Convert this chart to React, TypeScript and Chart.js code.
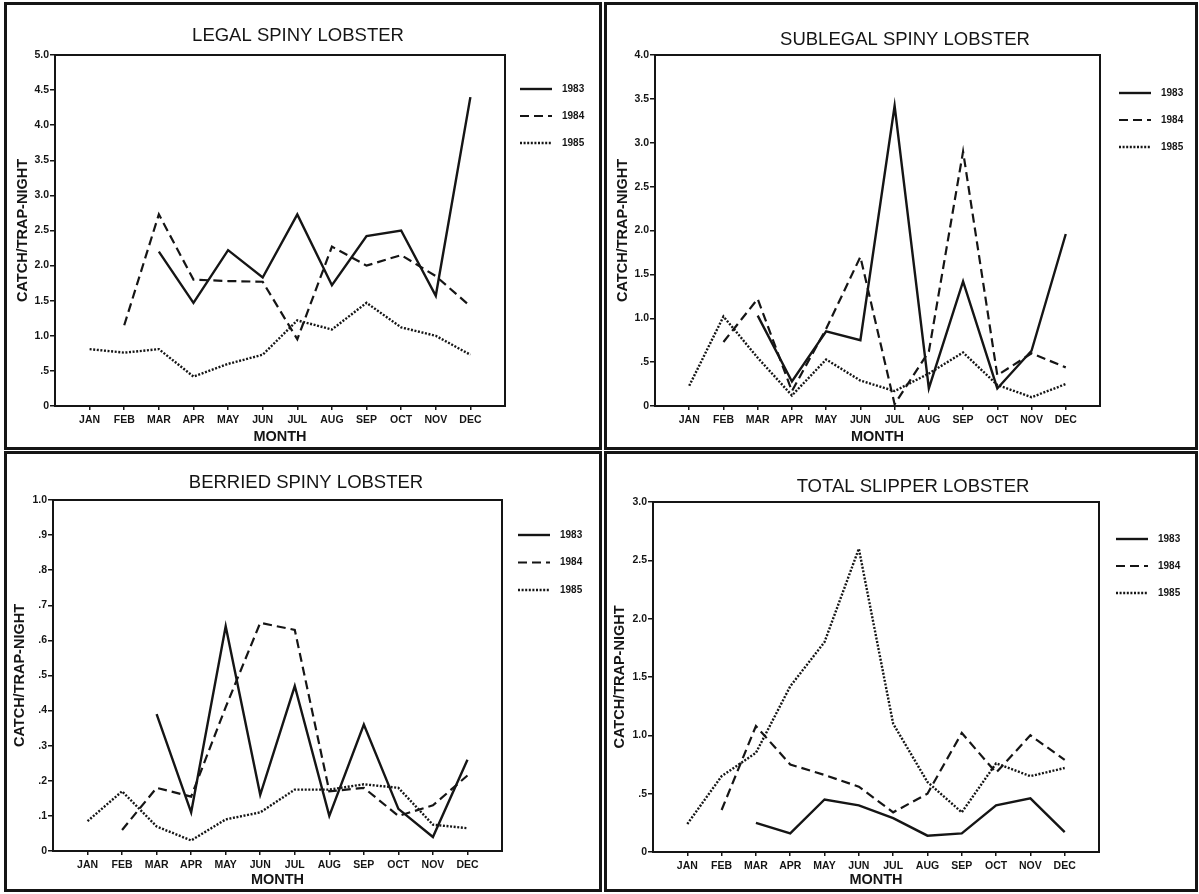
import React, { useEffect, useRef } from 'react';
import { Chart, registerables } from 'chart.js';

Chart.register(...registerables);

// ---- categories ----
const MONTHS = ['JAN', 'FEB', 'MAR', 'APR', 'MAY', 'JUN', 'JUL', 'AUG', 'SEP', 'OCT', 'NOV', 'DEC'];
const MONTH_NUMBERS = [1, 2, 3, 4, 5, 6, 7, 8, 9, 10, 11, 12];
const YEARS = ['1983', '1984', '1985'];

// ---- catch per trap-night, legal spiny lobster ----
const LEGAL_1983 = [null, null, 2.2, 1.47, 2.22, 1.83, 2.73, 1.72, 2.42, 2.5, 1.57, 4.4];
const LEGAL_1984 = [null, 1.15, 2.73, 1.8, 1.78, 1.77, 0.95, 2.27, 2.0, 2.15, 1.85, 1.42];
const LEGAL_1985 = [0.81, 0.76, 0.81, 0.42, 0.6, 0.73, 1.22, 1.09, 1.47, 1.12, 1.0, 0.73];

// ---- sublegal spiny lobster ----
const SUBLEGAL_1983 = [null, null, 1.03, 0.28, 0.85, 0.75, 3.42, 0.2, 1.42, 0.2, 0.63, 1.96];
const SUBLEGAL_1984 = [null, 0.73, 1.22, 0.17, 0.88, 1.7, 0.02, 0.62, 2.9, 0.35, 0.6, 0.44];
const SUBLEGAL_1985 = [0.23, 1.02, 0.55, 0.12, 0.53, 0.29, 0.17, 0.37, 0.61, 0.24, 0.1, 0.25];

// ---- berried spiny lobster ----
const BERRIED_1983 = [null, null, 0.39, 0.11, 0.64, 0.16, 0.47, 0.1, 0.36, 0.12, 0.04, 0.26];
const BERRIED_1984 = [null, 0.06, 0.18, 0.155, 0.41, 0.65, 0.63, 0.17, 0.18, 0.1, 0.13, 0.215];
const BERRIED_1985 = [0.085, 0.17, 0.07, 0.03, 0.09, 0.11, 0.175, 0.175, 0.19, 0.18, 0.075, 0.065];

// ---- total slipper lobster ----
const SLIPPER_1983 = [null, null, 0.25, 0.16, 0.45, 0.4, 0.29, 0.14, 0.16, 0.4, 0.46, 0.17];
const SLIPPER_1984 = [null, 0.36, 1.08, 0.75, 0.66, 0.56, 0.34, 0.5, 1.02, 0.68, 1.0, 0.79];
const SLIPPER_1985 = [0.24, 0.65, 0.85, 1.42, 1.8, 2.6, 1.1, 0.6, 0.34, 0.76, 0.65, 0.72];

// ---- y tick labels ----
const LEGAL_Y_TICKS = ['0', '.5', '1.0', '1.5', '2.0', '2.5', '3.0', '3.5', '4.0', '4.5', '5.0'];
const SUBLEGAL_Y_TICKS = ['0', '.5', '1.0', '1.5', '2.0', '2.5', '3.0', '3.5', '4.0'];
const BERRIED_Y_TICKS = ['0', '.1', '.2', '.3', '.4', '.5', '.6', '.7', '.8', '.9', '1.0'];
const SLIPPER_Y_TICKS = ['0', '.5', '1.0', '1.5', '2.0', '2.5', '3.0'];

const FONT = '"Liberation Sans", Arial, Helvetica, sans-serif';
const INK = '#151515';

// line style per year: solid, dashed, dotted
const YEAR_STYLES = [
  { dash: [] as number[], width: 2.4 },
  { dash: [9, 5], width: 2.2 },
  { dash: [2, 1.6], width: 2.4 },
];

type Geometry = {
  left: number; top: number; width: number; height: number;
  yWidth: number; padTop: number; padRight: number; xHeight: number;
  yTitlePad: number; xTitlePad: number;
  titleX: number; titleY: number;
  legendX: number; legendY: number; legendStep: number;
};

type PanelSpec = {
  title: string;
  yMax: number;
  yStep: number;
  yTicks: string[];
  series: (number | null)[][];
  geo: Geometry;
};

const PANELS: PanelSpec[] = [
  {
    title: 'LEGAL SPINY LOBSTER', yMax: 5, yStep: 0.5, yTicks: LEGAL_Y_TICKS,
    series: [LEGAL_1983, LEGAL_1984, LEGAL_1985],
    geo: { left: 4, top: 2, width: 592, height: 442, yWidth: 48, padTop: 50, padRight: 94, xHeight: 41,
      yTitlePad: 7, xTitlePad: 1, titleX: 291, titleY: 31, legendX: 513, legendY: 84, legendStep: 27 },
  },
  {
    title: 'SUBLEGAL SPINY LOBSTER', yMax: 4, yStep: 0.5, yTicks: SUBLEGAL_Y_TICKS,
    series: [SUBLEGAL_1983, SUBLEGAL_1984, SUBLEGAL_1985],
    geo: { left: 604, top: 2, width: 588, height: 442, yWidth: 48, padTop: 50, padRight: 95, xHeight: 41,
      yTitlePad: 7, xTitlePad: 1, titleX: 298, titleY: 35, legendX: 512, legendY: 88, legendStep: 27 },
  },
  {
    title: 'BERRIED SPINY LOBSTER', yMax: 1, yStep: 0.1, yTicks: BERRIED_Y_TICKS,
    series: [BERRIED_1983, BERRIED_1984, BERRIED_1985],
    geo: { left: 4, top: 451, width: 592, height: 435, yWidth: 46, padTop: 46, padRight: 97, xHeight: 38,
      yTitlePad: 4, xTitlePad: 0, titleX: 299, titleY: 29, legendX: 511, legendY: 81, legendStep: 27.5 },
  },
  {
    title: 'TOTAL SLIPPER LOBSTER', yMax: 3, yStep: 0.5, yTicks: SLIPPER_Y_TICKS,
    series: [SLIPPER_1983, SLIPPER_1984, SLIPPER_1985],
    geo: { left: 604, top: 451, width: 588, height: 435, yWidth: 46, padTop: 48, padRight: 96, xHeight: 37,
      yTitlePad: 4, xTitlePad: 0, titleX: 306, titleY: 33, legendX: 509, legendY: 85, legendStep: 27 },
  },
];

function Panel({ spec }: { spec: PanelSpec }) {
  const ref = useRef<HTMLCanvasElement | null>(null);
  const g = spec.geo;

  useEffect(() => {
    const canvas = ref.current;
    if (!canvas) return;

    const datasets = spec.series.map((values, i) => ({
      label: YEARS[i],
      data: MONTH_NUMBERS.map((m, k) => ({ x: m, y: values[k] })),
      borderColor: INK,
      borderWidth: YEAR_STYLES[i].width,
      borderDash: YEAR_STYLES[i].dash,
      pointRadius: 0,
      tension: 0,
      fill: false,
      spanGaps: false,
    }));

    // frame, panel heading and the year key
    const decor = {
      id: 'panelDecor',
      afterDraw(chart: any) {
        const { ctx, chartArea: a } = chart;
        ctx.save();
        ctx.setLineDash([]);
        ctx.strokeStyle = INK;
        ctx.lineWidth = 2;
        ctx.strokeRect(a.left, a.top, a.right - a.left, a.bottom - a.top);

        ctx.fillStyle = INK;
        ctx.font = `18.5px ${FONT}`;
        ctx.textAlign = 'center';
        ctx.textBaseline = 'middle';
        ctx.fillText(spec.title, g.titleX, g.titleY);

        chart.data.datasets.forEach((ds: any, i: number) => {
          const y = g.legendY + i * g.legendStep;
          ctx.beginPath();
          ctx.setLineDash(ds.borderDash || []);
          ctx.lineWidth = ds.borderWidth;
          ctx.strokeStyle = ds.borderColor;
          ctx.moveTo(g.legendX, y);
          ctx.lineTo(g.legendX + 32, y);
          ctx.stroke();
          ctx.setLineDash([]);
          ctx.font = `bold 10px ${FONT}`;
          ctx.textAlign = 'left';
          ctx.fillText(ds.label, g.legendX + 42, y);
        });
        ctx.restore();
      },
    };

    const chart = new Chart(canvas, {
      type: 'line',
      data: { datasets },
      plugins: [decor],
      options: {
        animation: false,
        responsive: false,
        maintainAspectRatio: false,
        layout: { padding: { left: 0, top: g.padTop, right: g.padRight, bottom: 0 } },
        plugins: {
          legend: { display: false },
          title: { display: false },
          tooltip: { enabled: false },
        },
        scales: {
          x: {
            type: 'linear',
            min: 0,
            max: 13,
            afterBuildTicks: (s: any) => {
              s.ticks = s.ticks.filter((t: any) => t.value >= 1 && t.value <= 12);
            },
            afterFit: (s: any) => { s.height = g.xHeight; },
            ticks: {
              stepSize: 1,
              autoSkip: false,
              maxRotation: 0,
              minRotation: 0,
              padding: 4,
              color: INK,
              font: { family: FONT, size: 10.5, weight: 'bold' },
              callback: (v: any) => MONTHS[Number(v) - 1] ?? '',
            },
            grid: { display: true, drawOnChartArea: false, drawTicks: true, tickLength: 4, color: INK, lineWidth: 1.5 },
            border: { display: true, color: INK, width: 2 },
            title: {
              display: true,
              text: 'MONTH',
              color: INK,
              font: { family: FONT, size: 14.5, weight: 'bold', lineHeight: 1.2 },
              padding: { top: 0, bottom: g.xTitlePad },
            },
          },
          y: {
            type: 'linear',
            min: 0,
            max: spec.yMax,
            afterFit: (s: any) => { s.width = g.yWidth; },
            ticks: {
              stepSize: spec.yStep,
              autoSkip: false,
              padding: 1,
              color: INK,
              font: { family: FONT, size: 10.5, weight: 'bold' },
              callback: (_v: any, i: number) => spec.yTicks[i] ?? '',
            },
            grid: { display: true, drawOnChartArea: false, drawTicks: true, tickLength: 5, color: INK, lineWidth: 1.5 },
            border: { display: true, color: INK, width: 2 },
            title: {
              display: true,
              text: 'CATCH/TRAP-NIGHT',
              color: INK,
              font: { family: FONT, size: 14.5, weight: 'bold', lineHeight: 1.2 },
              padding: { top: g.yTitlePad, bottom: 0 },
            },
          },
        },
      } as any,
    });
    return () => chart.destroy();
  }, [spec]);

  return (
    <div
      style={{
        position: 'absolute',
        left: g.left,
        top: g.top,
        width: g.width,
        height: g.height,
        border: `3px solid ${INK}`,
        background: '#fff',
      }}
    >
      <canvas ref={ref} width={g.width} height={g.height} style={{ display: 'block', width: g.width, height: g.height }} />
    </div>
  );
}

export default function App() {
  return (
    <div style={{ position: 'absolute', left: 0, top: 0, width: 1199, height: 894, background: '#fff', overflow: 'hidden' }}>
      {PANELS.map((p) => (
        <Panel key={p.title} spec={p} />
      ))}
    </div>
  );
}
